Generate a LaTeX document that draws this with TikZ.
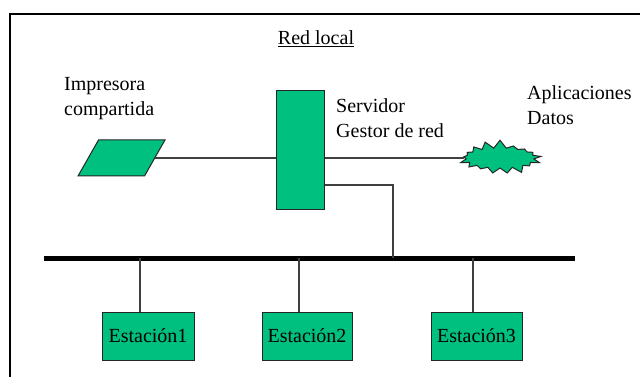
\documentclass[tikz,border=0pt]{standalone}
\usepackage{fontspec}
\setmainfont{Liberation Serif}
\usetikzlibrary{shapes.geometric,shapes.symbols}
\definecolor{netgreen}{HTML}{00C080}
\definecolor{wiregray}{HTML}{404040}

\begin{document}
\begin{tikzpicture}[x=1pt, y=-1pt,
    box/.style={draw=black!85, fill=netgreen, line width=1pt, inner sep=0pt},
    wire/.style={draw=wiregray, line width=1.3pt},
    txt/.style={font=\fontsize{20}{25}\selectfont, align=left, inner sep=0pt}]
  \useasboundingbox (0,0) rectangle (640,377);
  \draw[line width=2pt] (10,377) -- (10,14) -- (640,14);
  \node[txt, anchor=base] (title) at (316,45) {\underline{Red local}};
  % printer, server and data
  \node[box, trapezium, inner sep=2pt, trapezium left angle=66, trapezium right angle=114,
    trapezium stretches=true, minimum width=87pt, minimum height=36pt] (prn) at (121.5,158) {};
  \node[box, minimum width=48pt, minimum height=118pt] (srv) at (300,150) {};
  \node[box, starburst, starburst points=17, starburst point height=8pt, random starburst=10,
    minimum width=84pt, minimum height=36pt] (data) at (500,158) {};
  \node[txt, anchor=north west] (prnlbl) at (64,77) {Impresora\\compartida};
  \node[txt, anchor=north west] (srvlbl) at (336,98) {Servidor\\Gestor de red};
  \node[txt, anchor=north west] (datalbl) at (527,85) {Aplicaciones\\Datos};
  \draw[wire] (prn.east) -- (prn.east -| srv.west);
  \draw[wire] (srv.east |- data.west) -- (data.west);
  % bus
  \coordinate (busL) at (44,258);
  \coordinate (busR) at (575,258);
  \coordinate (tap) at (393,258);
  \draw[line width=5pt] (busL) -- (busR);
  \draw[wire] ([yshift=-35pt]srv.east) -| (tap);
  % stations
  \node[box, txt, minimum width=92pt, minimum height=48pt] (st1) at (148,336) {Estación1};
  \node[box, txt, minimum width=90pt, minimum height=48pt] (st2) at (307,336) {Estación2};
  \node[box, txt, minimum width=91pt, minimum height=48pt] (st3) at (476.5,336) {Estación3};
  \draw[wire] ([xshift=-8pt]st1.north) -- ([xshift=-8pt]st1.north |- busL);
  \draw[wire] ([xshift=-8pt]st2.north) -- ([xshift=-8pt]st2.north |- busL);
  \draw[wire] ([xshift=-3.5pt]st3.north) -- ([xshift=-3.5pt]st3.north |- busL);
\end{tikzpicture}
\end{document}
